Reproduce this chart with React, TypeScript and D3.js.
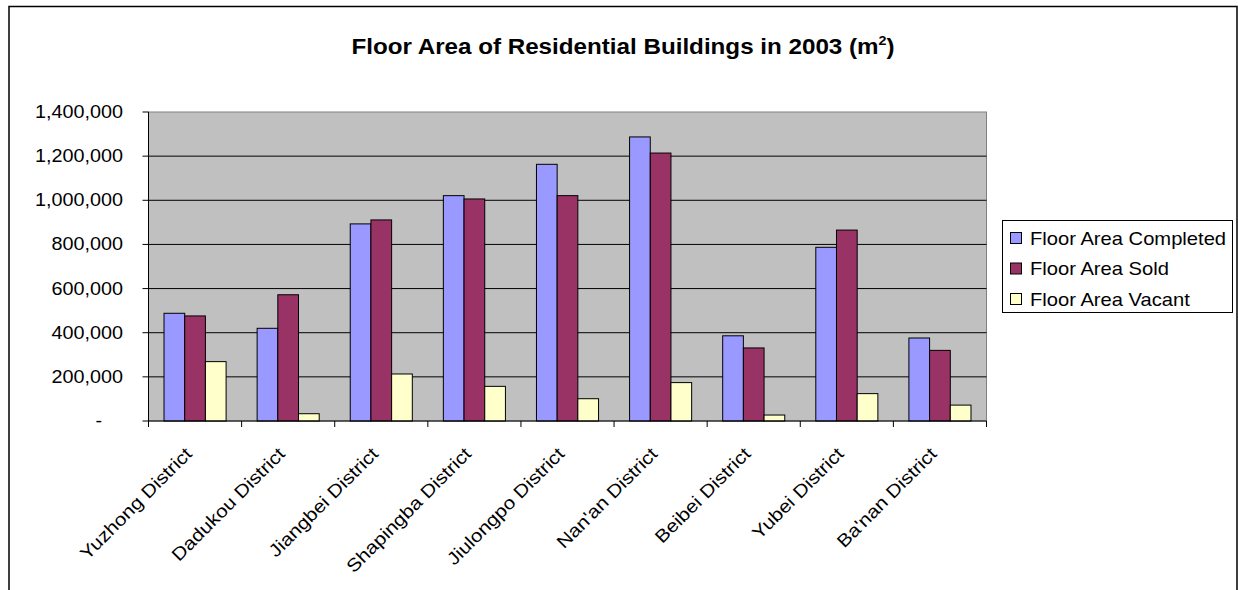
import React from "react";
import * as d3 from "d3";

const categories = [
  "Yuzhong District",
  "Dadukou District",
  "Jiangbei District",
  "Shapingba District",
  "Jiulongpo District",
  "Nan'an District",
  "Beibei District",
  "Yubei District",
  "Ba'nan District",
];
const seriesNames = ["Floor Area Completed", "Floor Area Sold", "Floor Area Vacant"];
const completed = [488000, 420000, 893000, 1021000, 1163000, 1287000, 386000, 787000, 376000];
const sold = [476000, 572000, 911000, 1006000, 1021000, 1214000, 331000, 865000, 320000];
const vacant = [269000, 33000, 213000, 157000, 101000, 174000, 27000, 124000, 72000];
const yTicks = [0, 200000, 400000, 600000, 800000, 1000000, 1200000, 1400000];
const colors = ["#9999FF", "#993366", "#FFFFCC"];

const W = 1238;
const H = 590;
const plot = { left: 148.5, right: 986.5, top: 112, bottom: 421 };
const FONT = "Arial, 'Liberation Sans', sans-serif";
const SX = 1.1;

export default function App() {
  const series = [completed, sold, vacant];
  const x = d3
    .scaleBand<string>()
    .domain(categories)
    .range([plot.left, plot.right])
    .paddingInner(1 / 3)
    .paddingOuter(1 / 6);
  const xs = d3.scaleBand<number>().domain([0, 1, 2]).range([0, x.bandwidth()]).padding(0);
  const y = d3.scaleLinear().domain([0, 1400000]).range([plot.bottom, plot.top]);
  const step = x.step();
  const fmt = d3.format(",");

  return (
    <svg
      width={W}
      height={H}
      style={{ position: "absolute", left: 0, top: 0, background: "#fff" }}
      fontFamily={FONT}
    >
      {/* outer chart border */}
      <rect x={9} y={6.5} width={1228} height={620} fill="#fff" stroke="#000" strokeWidth={1.5} />

      {/* title */}
      <text
        transform={`translate(623,54) scale(${SX},1)`}
        textAnchor="middle"
        fontSize={22}
        fontWeight="bold"
        fill="#000"
      >
        Floor Area of Residential Buildings in 2003 (m
        <tspan fontSize={13} dy={-9}>2</tspan>
        <tspan dy={9}>)</tspan>
      </text>

      {/* plot area */}
      <rect
        x={plot.left}
        y={plot.top}
        width={plot.right - plot.left}
        height={plot.bottom - plot.top}
        fill="#C0C0C0"
        stroke="#808080"
        strokeWidth={1}
      />
      {/* gridlines */}
      {yTicks.slice(1, -1).map((t) => (
        <line key={t} x1={plot.left} x2={plot.right} y1={y(t)} y2={y(t)} stroke="#000" strokeWidth={1} />
      ))}

      {/* bars */}
      {categories.map((c, i) => (
        <g key={c}>
          {series.map((s, j) => (
            <rect
              key={j}
              x={(x(c) as number) + (xs(j) as number)}
              y={y(s[i])}
              width={xs.bandwidth()}
              height={plot.bottom - y(s[i])}
              fill={colors[j]}
              stroke="#000"
              strokeWidth={1}
            />
          ))}
        </g>
      ))}

      {/* y axis */}
      <line x1={plot.left} x2={plot.left} y1={plot.top} y2={plot.bottom} stroke="#000" strokeWidth={1} />
      {yTicks.map((t) => (
        <g key={t}>
          <line x1={plot.left - 6} x2={plot.left} y1={y(t)} y2={y(t)} stroke="#000" />
          <text
            transform={`translate(${t === 0 ? 102 : 123},${y(t) + 6}) scale(${SX},1)`}
            textAnchor="end"
            fontSize={18}
            fill="#000"
          >
            {t === 0 ? "-" : fmt(t)}
          </text>
        </g>
      ))}

      {/* x axis */}
      <line x1={plot.left} x2={plot.right} y1={plot.bottom} y2={plot.bottom} stroke="#000" strokeWidth={1} />
      {d3.range(categories.length + 1).map((k) => (
        <line
          key={k}
          x1={plot.left + k * step}
          x2={plot.left + k * step}
          y1={plot.bottom}
          y2={plot.bottom + 6}
          stroke="#000"
        />
      ))}
      {categories.map((c) => {
        const cx = (x(c) as number) + x.bandwidth() / 2;
        return (
          <text
            key={c}
            transform={`translate(${cx - 2},${plot.bottom + 34}) rotate(-45) scale(1.15,1)`}
            textAnchor="end"
            fontSize={18}
            fill="#000"
          >
            {c}
          </text>
        );
      })}

      {/* legend */}
      <rect x={1002.5} y={220.5} width={230} height={92} fill="#fff" stroke="#000" strokeWidth={1} />
      {seriesNames.map((n, j) => (
        <g key={n} transform={`translate(1010,${238 + j * 30.5})`}>
          <rect x={0.5} y={-5.5} width={11} height={11} fill={colors[j]} stroke="#000" strokeWidth={1} />
          <text transform={`translate(20,6.5) scale(1.12,1)`} fontSize={18} fill="#000">
            {n}
          </text>
        </g>
      ))}
    </svg>
  );
}
